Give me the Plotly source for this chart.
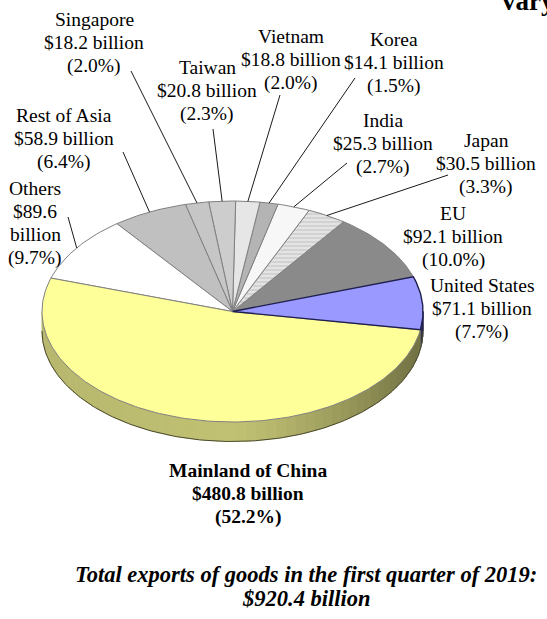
import math
import plotly.graph_objects as go

# data (first quarter 2019 exports of goods)
regions = ["United States", "EU", "Japan", "India", "Korea", "Vietnam",
           "Taiwan", "Singapore", "Rest of Asia", "Others", "Mainland of China"]
exports_bn = [71.1, 92.1, 30.5, 25.3, 14.1, 18.8, 20.8, 18.2, 58.9, 89.6, 480.8]
share_pct = [7.7, 10.0, 3.3, 2.7, 1.5, 2.0, 2.3, 2.0, 6.4, 9.7, 52.2]
total_bn = 920.4

slice_colors = ["#9999ff", "#8a8a8a", "#dedede", "#f7f7f7", "#b4b4b4", "#e6e6e6",
                "#cdcdcd", "#c6c6c6", "#c0c0c0", "#ffffff", "#ffff99"]

# label placement: centre x, first line y, leader start (None = no leader)
label_pos = {
    "Singapore": (94, 19, (131, 71)),
    "Taiwan": (207, 67, (213, 129)),
    "Vietnam": (291, 36, (280, 95)),
    "Korea": (394, 39, (355, 78)),
    "India": (383, 120, (347, 163)),
    "Japan": (486, 140, (448, 175)),
    "EU": (453, 213, None),
    "United States": (482, 285, None),
    "Rest of Asia": (64, 115, (123, 152)),
    "Others": (35, 188, (68, 217)),
    "Mainland of China": (248, 470, None),
}

FONT = "Liberation Serif"
LINE_H = 23.3

# pie geometry (page pixels, y down)
CX, CY, RX, RY, DEPTH = 232.5, 311.5, 190.5, 110.5, 19.5
START = -9.5


def edge(t_deg, drop=0.0):
    t = math.radians(t_deg)
    return CX + RX * math.cos(t), CY - RY * math.sin(t) + drop


def arc(a, b, drop=0.0, step=1.0):
    n = max(2, int(abs(b - a) / step) + 1)
    xs, ys = [], []
    for i in range(n):
        x, y = edge(a + (b - a) * i / (n - 1), drop)
        xs.append(x)
        ys.append(y)
    return xs, ys


def front_parts(a, b):
    # pieces of [a, b] where the side of the pie faces the viewer
    out = []
    for lo, hi in [(-180, 0), (180, 360), (540, 720)]:
        s, e = max(a, lo), min(b, hi)
        if e > s:
            out.append((s, e))
    return out


def hex_rgb(h):
    h = h.lstrip("#")
    return [int(h[i:i + 2], 16) for i in (0, 2, 4)]


fig = go.Figure()

tot = sum(exports_bn)
angles = []
a = START
for v in exports_bn:
    b = a + v / tot * 360
    angles.append((a, b))
    a = b

# side of the pie
for i, (a, b) in enumerate(angles):
    base = hex_rgb(slice_colors[i])
    for s, e in front_parts(a, b):
        n = max(1, int((e - s) / 3))
        for k in range(n):
            t0 = s + (e - s) * k / n
            t1 = s + (e - s) * (k + 1) / n + 0.3
            t1 = min(t1, e)
            u = math.cos(math.radians((t0 + t1) / 2))
            if regions[i] == "United States":
                f = 0.3
            else:
                f = 0.76 - 0.32 * max(u, 0) ** 1.3 - 0.04 * max(-u, 0)
            col = "rgb(%d,%d,%d)" % tuple(int(c * f) for c in base)
            tx, ty = arc(t0, t1)
            bx, by = arc(t1, t0, DEPTH)
            fig.add_trace(go.Scatter(x=tx + bx + [tx[0]], y=ty + by + [ty[0]],
                                     mode="lines", fill="toself", fillcolor=col,
                                     line=dict(color=col, width=0.6),
                                     hoverinfo="skip", showlegend=False))

# outline of the side
bx, by = arc(180, 360, DEPTH)
fig.add_trace(go.Scatter(x=bx, y=by, mode="lines", line=dict(color="#4a4a30", width=1),
                         hoverinfo="skip", showlegend=False))
rx0, ry0 = edge(360)
fig.add_trace(go.Scatter(x=[rx0, rx0], y=[ry0, ry0 + DEPTH], mode="lines",
                         line=dict(color="#1f1f4f", width=1.2),
                         hoverinfo="skip", showlegend=False))

# top face, US drawn last so its dark border stays on top
order = list(range(1, len(regions))) + [0]
for i in order:
    a, b = angles[i]
    xs, ys = arc(a, b)
    kw = {}
    if regions[i] == "Japan":
        kw["fillpattern"] = dict(shape="-", fgcolor="#a8a8a8", bgcolor="#e4e4e4",
                                 size=4, solidity=0.3)
    border = "#1f1f4f" if regions[i] == "United States" else "#808080"
    fig.add_trace(go.Scatter(x=[CX] + xs + [CX], y=[CY] + ys + [CY],
                             mode="lines", fill="toself", fillcolor=slice_colors[i],
                             line=dict(color=border, width=1 if i else 1.4),
                             hoverinfo="skip", showlegend=False, **kw))

# labels and leader lines
for i, name in enumerate(regions):
    lx, ly, lead = label_pos[name]
    if name == "Others":
        lines = [name, "$%.1f" % exports_bn[i], "billion", "(%.1f%%)" % share_pct[i]]
    else:
        lines = [name, "$%.1f billion" % exports_bn[i], "(%.1f%%)" % share_pct[i]]
    bold = name == "Mainland of China"
    for k, txt in enumerate(lines):
        fig.add_annotation(x=lx, y=ly + k * LINE_H, text="<b>%s</b>" % txt if bold else txt,
                           showarrow=False, xanchor="center", yanchor="middle",
                           font=dict(family=FONT, size=19.5, color="black"))
    if lead:
        a, b = angles[i]
        ex, ey = edge((a + b) / 2)
        fig.add_trace(go.Scatter(x=[lead[0], ex], y=[lead[1], ey], mode="lines",
                                 line=dict(color="black", width=0.9),
                                 hoverinfo="skip", showlegend=False))

# caption and the clipped title fragment
caption = ["Total exports of goods in the first quarter of 2019:", "$%.1f billion" % total_bn]
for k, txt in enumerate(caption):
    fig.add_annotation(x=306, y=574 + k * 24, text="<b><i>%s</i></b>" % txt,
                       showarrow=False, xanchor="center", yanchor="middle",
                       font=dict(family=FONT, size=22.5, color="black"))
fig.add_annotation(x=500, y=1, text="<b>vary</b>", showarrow=False,
                   xanchor="left", yanchor="middle",
                   font=dict(family=FONT, size=27, color="black"))

fig.update_layout(
    width=547, height=619,
    margin=dict(l=0, r=0, t=0, b=0),
    paper_bgcolor="white", plot_bgcolor="white",
    xaxis=dict(range=[0, 547], visible=False, fixedrange=True),
    yaxis=dict(range=[619, 0], visible=False, fixedrange=True),
    showlegend=False,
)

fig.write_html("out.html", config={"displayModeBar": False},
               post_script="document.body.style.margin='0';")
